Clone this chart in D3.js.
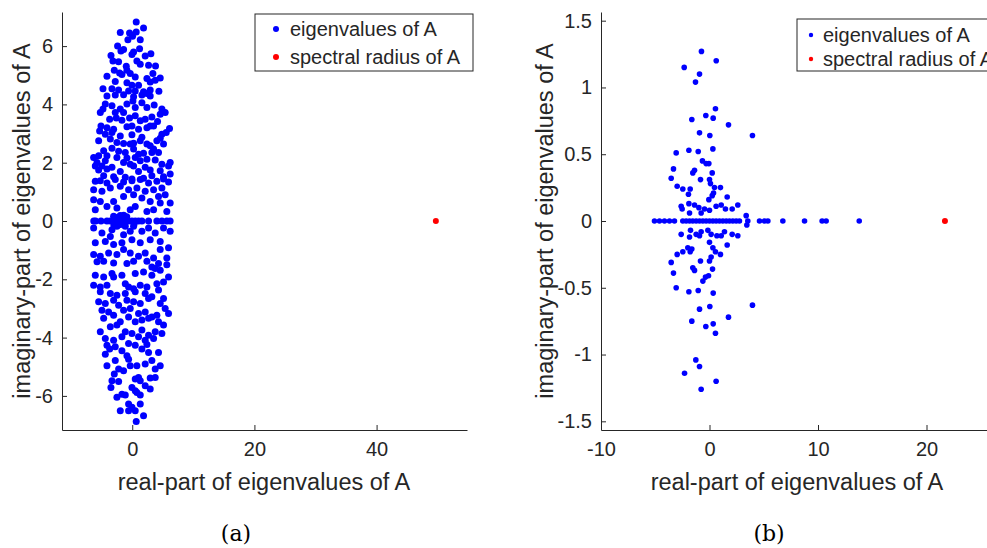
<!DOCTYPE html>
<html><head><meta charset="utf-8">
<script src="https://cdn.jsdelivr.net/npm/d3@7"></script>
<style>
body{margin:0;background:#fff}
text{font-family:"Liberation Sans",Arial,Helvetica,sans-serif;fill:#262626}
</style>
</head><body>
<svg id="c" width="987" height="548"></svg>
<script>
// ---------- data ----------
// (a) eigenvalues of A: [real, imaginary]
const eigA = [
[0.65,6.83],[1.85,6.62],[-1.96,6.47],[-0.44,6.45],[0.65,6.48],[0.05,6.34],[-0.71,6.22],[1.31,6.22],[-2.4,6.0],[-1.42,5.88],[-1.85,5.83],[1.2,5.91],[0.22,5.8],[-0.05,5.71],[2.12,5.66],[3.05,5.74],[-3.48,5.68],[-3.16,5.49],[-2.24,5.46],[0.76,5.49],[1.31,5.38],[2.67,5.34],[3.81,5.32],[-0.98,5.31],[-2.94,5.17],[-2.07,5.08],[-0.87,5.17],[-0.33,5.06],[-1.69,5.03],[0.49,4.94],[3.38,5.06],[2.4,4.89],[4.58,4.91],[-4.14,4.97],[-2.78,4.79],[-0.87,4.74],[-0.05,4.66],[1.03,4.66],[2.94,4.77],[3.76,4.83],[-4.79,4.54],[-3.32,4.54],[-2.24,4.49],[-0.6,4.46],[0.49,4.46],[1.85,4.43],[2.94,4.49],[4.36,4.45],[2.4,4.37],
[-4.14,4.29],[-2.78,4.32],[-1.42,4.33],[0.22,4.26],[1.58,4.32],[2.94,4.29],[-4.41,4.01],[-3.32,3.95],[-4.79,3.84],[-1.96,3.84],[-0.87,4.01],[0.11,4.12],[0.49,3.89],[1.58,4.06],[2.4,3.89],[3.59,3.98],[4.85,3.84],[-5.23,3.72],[-1.42,3.72],[-2.78,3.72],[-3.7,3.49],[-2.61,3.53],[-1.69,3.46],[-0.44,3.53],[0.49,3.61],[1.31,3.44],[2.12,3.49],[3.21,3.57],[4.58,3.66],[5.39,3.72],[4.14,3.41],[2.94,3.26],[-5.12,3.26],[-4.14,3.2],[-3.05,3.15],[-0.87,3.23],[-0.05,3.26],[1.03,3.15],[2.4,3.2],[3.49,3.26],[6.1,3.17],[5.56,3.04],[-5.34,3.09],[-4.41,2.98],[-3.32,3.04],[-1.96,2.92],[-0.05,2.96],[1.58,2.87],[4.85,2.98],[4.58,2.84],[4.03,2.75],[-5.5,2.75],[-3.59,2.81],[-2.51,2.69],[-1.42,2.66],[-0.33,2.64],[0.22,2.67],[1.31,2.75],[2.4,2.64],[2.94,2.58],[5.12,2.64],[3.49,2.47],[-4.68,2.41],[-3.32,2.5],[-2.23,2.39],[-1.14,2.35],[0.22,2.47],[1.03,2.29],[1.85,2.32],[3.21,2.35],[4.3,2.35],[-6.32,2.18],[-5.5,2.24],[-4.14,2.24],[-2.51,2.18],[-0.87,2.16],[0.49,2.18],[2.4,2.12],[-5.77,2.01],[-4.41,2.07],[-1.42,2.01],[-0.33,1.95],[1.31,2.07],[3.76,2.09],[4.85,1.95],[6.21,2.01],[-6.05,1.89],[-4.96,1.89],[-3.32,1.84],[0.22,1.89],[2.12,1.84],[5.94,1.89],[-5.5,1.75],[-4.14,1.78],[-1.96,1.7],[1.03,1.7],[2.94,1.75],[4.58,1.72],[-4.68,1.55],[-3.05,1.52],[-1.14,1.5],[-0.05,1.44],[1.85,1.47],[3.21,1.55],[5.12,1.52],[6.21,1.61],
[-6.05,1.36],[-5.23,1.38],[-4.14,1.3],[-2.78,1.42],[-1.42,1.34],[-0.05,1.38],[1.31,1.42],[2.67,1.3],[4.03,1.36],[5.94,1.34],[5.12,1.44],[-6.32,1.07],[-4.96,1.02],[-3.59,1.13],[-1.96,1.19],[-0.6,1.07],[0.76,1.13],[2.12,1.02],[3.49,1.07],[4.85,1.13],[-6.32,0.73],[-5.23,0.67],[-3.05,0.67],[-1.42,0.84],[0.22,0.9],[1.58,0.79],[2.94,0.67],[4.3,0.84],[5.39,0.9],[6.21,0.62],[-6.05,0.39],[-4.14,0.5],[-2.51,0.45],[-0.33,0.39],[0.49,0.5],[2.4,0.33],[3.49,0.39],[5.66,0.33],[4.58,0.62],
[-6.3,0],[-6.0,0],[-5.12,0],[-4.14,0],[-3.6,0],[-3.32,0],[-2.78,0],[-2.23,0],[-1.69,0],[-1.14,0],[-0.6,0],[-0.05,0],[0.49,0],[1.03,0],[1.58,0],[2.67,0],[4.03,0],[4.85,0],[5.66,0],[6.2,0],
[-2.5,0.12],[-1.9,-0.12],[-0.9,0.15],[0.3,-0.1],[-1.4,0.2],[-3.0,-0.15],[-3.05,0.16],[-1.96,0.19],[-1.14,-0.18],[0.22,-0.18],[-2.51,-0.18],[-3.32,-0.3],
[-6.32,-0.24],[-4.96,-0.41],[-3.59,-0.53],[-1.42,-0.47],[-0.33,-0.35],[1.58,-0.35],[2.67,-0.24],[3.76,-0.41],[5.12,-0.24],[6.21,-0.35],[-6.05,-0.75],[-4.41,-0.7],[-3.05,-0.81],[-1.69,-0.75],[-0.05,-0.64],[1.31,-0.75],[2.94,-0.64],[4.58,-0.7],[5.94,-0.92],[-6.32,-1.15],[-5.23,-1.21],[-3.87,-1.1],[-2.51,-1.15],[-1.42,-0.98],[-0.33,-1.1],[1.03,-1.21],[2.12,-1.1],[3.49,-1.27],[4.58,-0.98],[5.66,-1.27],[-4.68,-1.38],[-3.05,-1.44],[0.22,-1.38],[2.4,-1.38],
[-5.77,-1.4],[-0.87,-1.46],[4.3,-1.46],[5.66,-1.5],[3.21,-1.58],[-6.05,-1.86],[-4.68,-1.92],[-3.32,-1.8],[-3.05,-1.92],[-1.69,-1.86],[0.49,-1.8],[1.85,-1.75],[3.21,-1.86],[4.58,-1.69],[5.94,-1.92],[3.76,-1.63],[-6.32,-2.2],[-5.23,-2.26],[-4.14,-2.2],[-1.14,-2.15],[-0.6,-2.26],[0.22,-2.32],[1.31,-2.2],[2.4,-2.26],[4.03,-2.15],[5.12,-2.09],[-5.23,-2.43],[-3.59,-2.49],[-2.51,-2.55],[-1.14,-2.49],[0.49,-2.43],[2.12,-2.49],[3.21,-2.6],[4.3,-2.37],[-5.5,-2.77],[-4.41,-2.83],[-3.05,-2.72],[-2.23,-2.89],[-0.87,-2.72],[0.22,-2.77],[1.31,-2.83],[2.67,-2.66],[5.12,-2.66],[4.58,-2.83],[5.39,-3.0],[5.94,-3.17],[-4.96,-3.06],[-3.87,-3.12],[-3.05,-3.23],[-1.42,-3.06],[-0.33,-3.0],[1.03,-3.17],[2.12,-3.12],[3.21,-3.29],[4.03,-3.23],[-4.68,-3.34],[-1.96,-3.46],[-0.6,-3.29],[0.49,-3.46],[1.58,-3.4],[2.67,-3.34],[4.3,-3.46],[5.12,-3.57],[-5.23,-3.8],[-3.59,-3.63],[-2.51,-3.57],[-1.14,-3.8],[-0.05,-3.86],[1.58,-3.74],[2.67,-3.92],[3.76,-3.8],[4.85,-3.86],[-4.41,-4.03],[-3.05,-4.09],[-1.69,-3.97],[1.03,-3.97],[2.12,-4.09],[3.49,-4.03],[-4.14,-4.26],[-0.6,-4.2],[0.49,-4.26],[2.4,-4.24],
[-4.41,-4.57],[-3.7,-4.39],[-2.78,-4.31],[-1.69,-4.45],[1.58,-4.39],[2.67,-4.51],[4.3,-4.51],[-4.14,-4.97],[-2.78,-4.79],[-2.23,-5.08],[-1.42,-5.14],[-0.6,-4.74],[-0.33,-4.97],[0.76,-4.97],[2.12,-4.91],[3.21,-4.79],[3.76,-5.08],[4.58,-4.97],[-0.87,-4.62],[-3.32,-5.48],[-2.23,-5.51],[-2.94,-5.25],[0.49,-5.42],[1.31,-5.48],[1.03,-5.37],[2.94,-5.39],[3.76,-5.37],[2.12,-5.65],[2.94,-5.76],[-3.49,-5.71],[-2.51,-6.05],[-1.69,-5.94],[-1.14,-5.97],[-0.05,-5.71],[0.49,-5.82],[1.31,-5.97],[0.76,-5.88],[-0.6,-6.28],[-0.05,-6.39],[1.31,-6.28],[-1.96,-6.51],[-0.6,-6.51],[0.49,-6.51],[1.85,-6.68],[0.65,-6.88]
];
const radiusA = [[49.7, 0]];

// (b) eigenvalues of A: [real, imaginary]
const eigB = [
[-0.74,1.27],[0.62,1.2],[-2.33,1.15],[-0.92,1.1],[-1.29,1.04],
[0.55,0.84],[-0.34,0.79],[0.34,0.77],[-1.63,0.76],[1.75,0.72],[-0.92,0.66],[0.03,0.64],[3.96,0.64],[-3.07,0.51],[-1.9,0.53],[-1.04,0.52],[0.31,0.54],[-0.65,0.45],[-0.31,0.43],[-0.06,0.43],[-3.32,0.39],[-1.38,0.38],[-1.54,0.36],[0.25,0.36],[-3.53,0.32],[-0.83,0.31],[0,0.31],[0.09,0.28],[0.46,0.25],[-2.98,0.26],[-2.46,0.24],[-1.78,0.24],[-1.94,0.2],[1.01,0.25],[0.37,0.21],[0.25,0.19],[-0.06,0.16],[1.63,0.18],[-2.61,0.11],[-2.52,0.09],[-1.9,0.13],[-1.38,0.12],[-0.98,0.1],[-0.46,0.09],[0.61,0.11],[1.08,0.12],[1.47,0.09],[2.09,0.09],[2.61,0.12],[-0.77,0.06],[0,0.08],[-1.84,0.06],[3.38,0.04],
[-5.07,0],[-4.61,0],[-4.15,0],[-3.69,0],[-3.23,0],[-2.46,0],[-2.15,0],[-1.84,0],[-1.54,0],[-1.23,0],[-0.92,0],[-0.61,0],[-0.31,0],[0,0],[0.31,0],[0.61,0],[0.92,0],[1.23,0],[1.54,0],[1.84,0],[2.15,0],[2.46,0],[2.76,0],[3.53,0],[4.61,0],[5.07,0],[5.38,0],[6.76,0],[8.76,0],[10.38,0],[10.75,0],[13.8,0],
[3.44,-0.03],[-2.61,-0.1],[-1.75,-0.07],[-1.23,-0.1],[-0.77,-0.08],[-0.15,-0.07],[0.15,-0.1],[0.68,-0.11],[1.08,-0.11],[1.38,-0.08],[2.09,-0.1],[2.61,-0.11],[-1.84,-0.12],[-0.92,-0.11],[1.63,-0.18],[0,-0.16],[0.31,-0.2],[-2.0,-0.2],[-1.63,-0.21],[-2.46,-0.23],[-2.98,-0.25],[-1.78,-0.23],[0.55,-0.23],[1.01,-0.25],[0.15,-0.27],[0,-0.3],[-0.83,-0.3],[-3.53,-0.31],[-3.32,-0.39],[-1.54,-0.35],[-1.38,-0.37],[0.28,-0.36],[-0.09,-0.41],[-0.37,-0.42],[-0.61,-0.45],[-3.07,-0.5],[-1.9,-0.53],[-1.04,-0.52],[0.34,-0.54],[-0.92,-0.66],[0.03,-0.64],[3.96,-0.63],[1.75,-0.72],[-1.63,-0.75],[-0.34,-0.79],[0.34,-0.77],[0.55,-0.84],
[-1.26,-1.04],[-0.92,-1.09],[-2.3,-1.14],[0.61,-1.2],[-0.77,-1.26]
];
const radiusB = [[21.7, 0]];

const xTicksA = [0, 20, 40];
const yTicksA = [-6, -4, -2, 0, 2, 4, 6];
const xTicksB = [-10, 0, 10, 20];
const yTicksB = [-1.5, -1, -0.5, 0, 0.5, 1, 1.5];
const legendLabels = ["eigenvalues of A", "spectral radius of A"];
const xLabel = "real-part of eigenvalues of A";
const yLabel = "imaginary-part of eigenvalues of A";
const captions = ["(a)", "(b)"];

// ---------- drawing ----------
const svg = d3.select("#c");
const AX = "#262626";

function panel(cfg) {
  const x = d3.scaleLinear().domain(cfg.xDom).range(cfg.xRange);
  const y = d3.scaleLinear().domain(cfg.yDom).range(cfg.yRange);
  const g = svg.append("g");
  const fmt = d => String(d);

  const gx = g.append("g").attr("transform", `translate(0,${cfg.yRange[0]})`)
    .call(d3.axisBottom(x).tickValues(cfg.xTicks).tickFormat(fmt).tickSizeInner(-5).tickSizeOuter(0).tickPadding(12));
  const gy = g.append("g").attr("transform", `translate(${cfg.xRange[0]},0)`)
    .call(d3.axisLeft(y).tickValues(cfg.yTicks).tickFormat(fmt).tickSizeInner(-5).tickSizeOuter(0).tickPadding(9));
  [gx, gy].forEach(a => {
    a.select(".domain").attr("stroke", AX).attr("stroke-width", 1);
    a.selectAll(".tick line").attr("stroke", AX);
    a.selectAll(".tick text").attr("fill", AX).style("font-size", cfg.tickFont + "px")
      .style("font-family", '"Liberation Sans",Arial,sans-serif');
  });

  g.append("g").selectAll("circle").data(cfg.eig).join("circle")
    .attr("cx", d => x(d[0])).attr("cy", d => y(d[1])).attr("r", cfg.r).attr("fill", "#0000ff");
  g.append("g").selectAll("circle").data(cfg.rad).join("circle")
    .attr("cx", d => x(d[0])).attr("cy", d => y(d[1])).attr("r", cfg.rr).attr("fill", "#ff0000");

  g.append("text").attr("x", cfg.xlabX).attr("y", cfg.xlabY).attr("text-anchor", "middle")
    .style("font-size", cfg.labFont + "px").text(xLabel);
  g.append("text").attr("transform", `translate(${cfg.ylabX},${cfg.ylabY}) rotate(-90)`)
    .attr("text-anchor", "middle").style("font-size", cfg.labFont + "px").text(yLabel);

  // legend
  const L = cfg.leg;
  const lg = g.append("g");
  lg.append("rect").attr("x", L.x).attr("y", L.y).attr("width", L.w).attr("height", L.h)
    .attr("fill", "#fff").attr("stroke", AX).attr("stroke-width", 1);
  const colors = ["#0000ff", "#ff0000"];
  legendLabels.forEach((t, i) => {
    const cy = L.y + L.rows[i];
    lg.append("circle").attr("cx", L.mx).attr("cy", cy).attr("r", L.mr).attr("fill", colors[i]);
    lg.append("text").attr("x", L.tx).attr("y", cy).attr("dy", "0.35em")
      .style("font-size", L.font + "px").text(t);
  });

  svg.append("text").attr("x", cfg.capX).attr("y", 533).attr("dy", "0.35em").attr("text-anchor", "middle")
    .style("font-family", '"DejaVu Serif","Liberation Serif",serif').style("font-size", "22px").style("fill", "#000")
    .text(cfg.cap);
}

panel({
  xDom: [-11.5, 54.8], xRange: [62, 467], yDom: [-7.17, 7.17], yRange: [430, 12],
  xTicks: xTicksA, yTicks: yTicksA, eig: eigA, rad: radiusA, r: 3.5, rr: 3,
  tickFont: 20, labFont: 23.5, xlabX: 264, xlabY: 490, ylabX: 30, ylabY: 221,
  leg: {x: 255, y: 14, w: 218, h: 57, rows: [15, 43], mx: 276, mr: 3, tx: 290, font: 20},
  capX: 236, cap: captions[0]
});
panel({
  xDom: [-10, 30], xRange: [601, 1035], yDom: [-1.565, 1.565], yRange: [430, 12],
  xTicks: xTicksB, yTicks: yTicksB, eig: eigB, rad: radiusB, r: 2.8, rr: 3,
  tickFont: 20, labFont: 23.5, xlabX: 797, xlabY: 490, ylabX: 553, ylabY: 221,
  leg: {x: 797, y: 19, w: 230, h: 52, rows: [16, 40], mx: 811, mr: 2.2, tx: 823, font: 20},
  capX: 769, cap: captions[1]
});
</script>
</body></html>
